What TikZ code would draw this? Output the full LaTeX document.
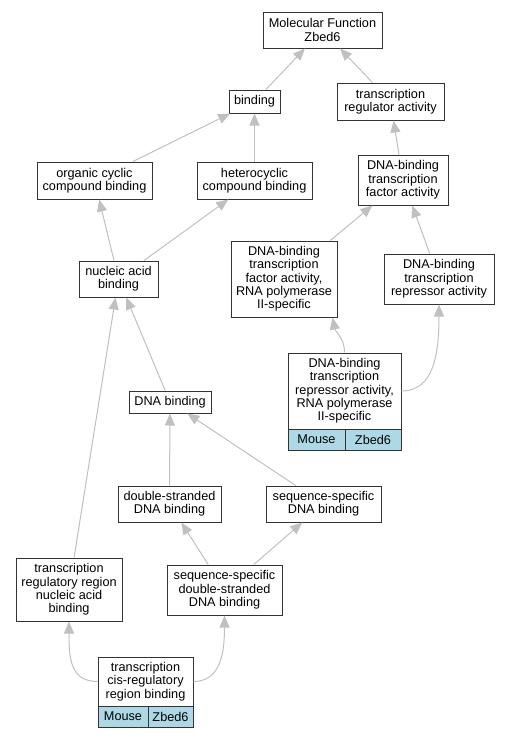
\documentclass[tikz,border=0pt]{standalone}
\usepackage{fontspec}
\setmainfont{Liberation Sans}
\usepackage{xcolor}
\usetikzlibrary{arrows, arrows.meta, positioning}
\definecolor{edgegray}{HTML}{C0C0C0}
\definecolor{cellblue}{HTML}{ADD8E6}
\definecolor{boxline}{HTML}{333333}

\begin{document}
\begin{tikzpicture}[x=1pt, y=-1pt,
    term/.style={draw=boxline, line width=1pt, fill=white, align=center, inner sep=0pt,
        font=\fontsize{12.7}{13.3}\selectfont},
    cell/.style={term, fill=cellblue, minimum height=21},
    edge/.style={draw=edgegray, line width=1pt, -{Triangle[length=12pt, width=10pt]}}]
    \useasboundingbox (0, 0) rectangle (509, 739);

    % terms
    \node[term, minimum width=119, minimum height=36] (mf) at (322.5, 30) {Molecular Function\\Zbed6};
    \node[term, minimum width=51, minimum height=23] (bind) at (254.5, 101.5) {binding};
    \node[term, minimum width=107, minimum height=37] (tra) at (390.5, 101.5) {transcription\\regulator activity};
    \node[term, minimum width=115, minimum height=37] (org) at (94.5, 180.5) {organic cyclic\\compound binding};
    \node[term, minimum width=115, minimum height=37] (het) at (254.5, 180.5) {heterocyclic\\compound binding};
    \node[term, minimum width=90, minimum height=50] (dbtfa) at (403, 180) {DNA-binding\\transcription\\factor activity};
    \node[term, minimum width=79, minimum height=36] (nuc) at (118.5, 279) {nucleic acid\\binding};
    \node[term, minimum width=106, minimum height=76] (tfpol) at (284, 279) {DNA-binding\\transcription\\factor activity,\\RNA polymerase\\II-specific};
    \node[term, minimum width=110, minimum height=50] (repr) at (439, 279) {DNA-binding\\transcription\\repressor activity};
    \node[term, minimum width=82, minimum height=22] (dnab) at (170, 402) {DNA binding};
    \node[term, minimum width=113, minimum height=76] (reppol) at (344.5, 391) {DNA-binding\\transcription\\repressor activity,\\RNA polymerase\\II-specific};
    \node[term, minimum width=103, minimum height=36] (ds) at (169.5, 504) {double-stranded\\DNA binding};
    \node[term, minimum width=115, minimum height=36] (ss) at (323.5, 504) {sequence-specific\\DNA binding};
    \node[term, minimum width=106, minimum height=63] (trrna) at (69, 589.5) {transcription\\regulatory region\\nucleic acid\\binding};
    \node[term, minimum width=115, minimum height=50] (ssds) at (224.5, 590) {sequence-specific\\double-stranded\\DNA binding};
    \node[term, minimum width=95, minimum height=49] (cis) at (145.5, 681.5) {transcription\\cis-regulatory\\region binding};

    % species rows
    \node[cell, minimum width=57] (reppolm) at (316.5, 439.5) {Mouse};
    \node[cell, minimum width=56] (reppolz) at (373, 439.5) {Zbed6};
    \node[cell, minimum width=50] (cism) at (123, 716.5) {Mouse};
    \node[cell, minimum width=45] (cisz) at (170.5, 716.5) {Zbed6};

    % is_a edges
    \draw[edge] (bind) -- (mf);
    \draw[edge] (tra) -- (mf);
    \draw[edge] (org) -- (bind);
    \draw[edge] (het) -- (bind);
    \draw[edge] (dbtfa) -- (tra);
    \draw[edge] (nuc) -- (org);
    \draw[edge] (nuc) -- (het);
    \draw[edge] (tfpol) -- (dbtfa);
    \draw[edge] (repr) -- (dbtfa);
    \draw[edge] (dnab) -- (nuc);
    \draw[edge] (trrna) -- (nuc);
    \draw[edge] (ds) -- (dnab);
    \draw[edge] (ss) -- (dnab);
    \draw[edge] (ssds) -- (ds);
    \draw[edge] (ssds) -- (ss);
    \draw[edge] (reppol.north) .. controls +(0, -15) and +(3, 15) .. ([xshift=-5pt]tfpol.south east);
    \draw[edge] (reppol.east) .. controls +(32, 0) and +(0, 50) .. (repr.south);
    \draw[edge] (cis.west) .. controls +(-28, 0) and +(0, 35) .. (trrna.south);
    \draw[edge] (cis.east) .. controls +(28, 0) and +(0, 35) .. (ssds.south);
\end{tikzpicture}
\end{document}
